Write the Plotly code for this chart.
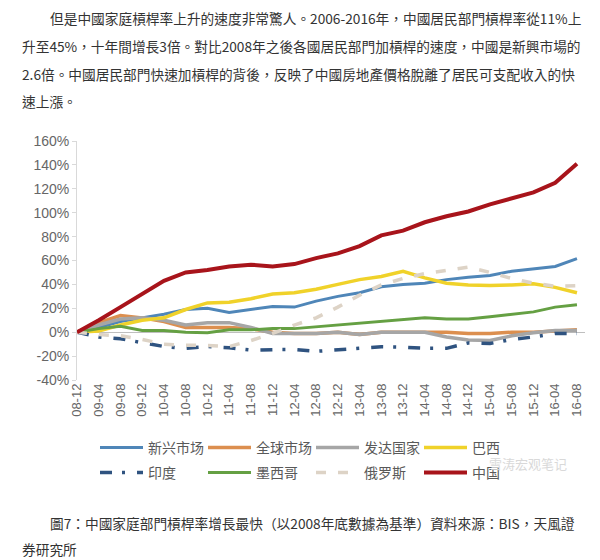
import plotly.graph_objects as go

# ---------------- data ----------------
categories = ["08-12", "09-04", "09-08", "09-12", "10-04", "10-08", "10-12", "11-04",
              "11-08", "11-12", "12-04", "12-08", "12-12", "13-04", "13-08", "13-12",
              "14-04", "14-08", "14-12", "15-04", "15-08", "15-12", "16-04", "16-08"]

emerging = [0, 4, 9, 12, 15, 19, 20, 16.5, 19, 21.5, 21, 26, 30, 33, 38, 40, 41, 44, 46, 47.5, 51, 53, 55, 61.5]
global_mkt = [0, 8, 14, 12, 9, 4, 4, 4, 3, 0, -1, -1, 0, -2, 0, 0, 0, 0, -1, -1, 0, 0, 1, 2]
developed = [0, 6, 11, 12, 10, 6, 8, 8, 4, -1, -1, -1, 0, -2, 0, 0, 0, -4, -6.5, -7, -3, -0.5, 1.5, 1.5]
brazil = [0, 1, 6, 10, 12, 19, 24.5, 25, 28, 32, 33, 36, 40, 44, 46.6, 51, 45.5, 41, 39.5, 39, 39.5, 40.5, 37.5, 33]
india = [0, -4, -5.5, -9, -12, -13.5, -12, -13, -15, -14.6, -14.5, -16, -14.5, -13, -12.2, -12.5, -13.5, -13.5, -9, -9.5, -6, -4, -1, -1]
mexico = [0, 3, 5, 1.5, 1.5, 0, -0.5, 2, 2, 3, 3, 4.5, 6, 7.5, 9, 11, 12, 11, 11, 13, 15, 17, 21, 23]
russia = [0, -2, -3, -6, -10, -11, -11, -12, -7, -1, 6, 12, 21, 31, 39.5, 45, 49, 52, 54.5, 50, 45, 41, 38.5, 39]
china = [0, 10, 21, 32, 43, 50, 52, 55, 56.5, 55, 57, 62, 66, 72, 81, 85, 92, 97, 101, 107, 112, 117, 125, 141]

y_ticks = [-40, -20, 0, 20, 40, 60, 80, 100, 120, 140, 160]
y_tick_labels = ["-40%", "-20%", "0%", "20%", "40%", "60%", "80%", "100%", "120%", "140%", "160%"]

series = [
    ("新兴市场", emerging, "#4f86b8", "solid", 3, "legend"),
    ("全球市场", global_mkt, "#dc8f4f", "solid", 3.5, "legend"),
    ("发达国家", developed, "#a6a6a6", "solid", 3.5, "legend"),
    ("巴西", brazil, "#f0d22a", "solid", 3.5, "legend"),
    ("印度", india, "#2f5380", "12px,10px,3px,12px", 3.5, "legend2"),
    ("墨西哥", mexico, "#65a043", "solid", 3, "legend2"),
    ("俄罗斯", russia, "#ddd3c6", "10px,12px", 3.5, "legend2"),
    ("中国", china, "#a8141b", "solid", 4, "legend2"),
]

paragraph = [
    ("但是中國家庭槓桿率上升的速度非常驚人。2006-2016年，中國居民部門槓桿率從11%上", 48, 18),
    ("升至45%，十年間增長3倍。對比2008年之後各國居民部門加槓桿的速度，中國是新興市場的", 20, 46),
    ("2.6倍。中國居民部門快速加槓桿的背後，反映了中國房地產價格脫離了居民可支配收入的快", 20, 74),
    ("速上漲。", 20, 101),
]
caption = [
    ("圖7：中國家庭部門槓桿率增長最快（以2008年底數據為基準）資料來源：BIS，天風證", 48, 523),
    ("券研究所", 20, 549),
]

# ---------------- layout geometry (page pixels; page body has an 8px margin) ----------------
OFF = 8
W, H = 600 - OFF, 560 - OFF
PLOT_L, PLOT_R, PLOT_T, PLOT_B = 77, 585, 141, 380   # page pixels
ML, MR = PLOT_L - OFF, 600 - PLOT_R
MT, MB = PLOT_T - OFF, 560 - PLOT_B
PW, PH = W - ML - MR, H - MT - MB


def px2paper(px, py):
    return (px - PLOT_L) / PW, (PLOT_B - py) / PH


fig = go.Figure()
for name, vals, color, dash, width, leg in series:
    fig.add_trace(go.Scatter(
        x=categories, y=vals, name=name, mode="lines",
        line=dict(color=color, width=width, dash=dash),
        legend=leg, hoverinfo="skip"))

annotations = []
for text, px, py in paragraph + caption:
    xp, yp = px2paper(px, py)
    annotations.append(dict(text=text, x=xp, y=yp, xref="paper", yref="paper",
                            xanchor="left", yanchor="middle", showarrow=False,
                            font=dict(family="Noto Sans CJK TC", size=13.7, color="#333333")))
# watermark
xp, yp = px2paper(487, 463)
annotations.append(dict(text="雪涛宏观笔记", x=xp, y=yp, xref="paper", yref="paper",
                        xanchor="left", yanchor="middle", showarrow=False,
                        font=dict(family="Noto Sans CJK SC", size=13, color="#d9d9d9")))

lx1, ly1 = px2paper(95, 448)
lx2, ly2 = px2paper(95, 473)
legend_font = dict(family="Noto Sans CJK SC", size=14, color="#595959")

fig.update_layout(
    width=W, height=H,
    margin=dict(l=ML, r=MR, t=MT, b=MB, autoexpand=False),
    paper_bgcolor="white", plot_bgcolor="white",
    showlegend=True,
    legend=dict(orientation="h", x=lx1, y=ly1, xanchor="left", yanchor="middle",
                entrywidth=50, entrywidthmode="pixels", itemwidth=43, font=legend_font,
                bgcolor="rgba(0,0,0,0)", traceorder="normal"),
    legend2=dict(orientation="h", x=lx2, y=ly2, xanchor="left", yanchor="middle",
                 entrywidth=50, entrywidthmode="pixels", itemwidth=43, font=legend_font,
                 bgcolor="rgba(0,0,0,0)", traceorder="normal"),
    annotations=annotations,
    xaxis=dict(type="category", range=[0, 23.37], showgrid=False, showline=False,
               zeroline=False, tickangle=-90, ticks="",
               tickfont=dict(family="Liberation Sans", size=13, color="#666666")),
    yaxis=dict(range=[-40, 160], tickvals=y_ticks, ticktext=y_tick_labels,
               showgrid=False, showline=True, linecolor="#d9d9d9", linewidth=1,
               ticks="outside", ticklen=4, tickcolor="#d9d9d9",
               zeroline=True, zerolinecolor="#bfbfbf", zerolinewidth=1,
               tickfont=dict(family="Liberation Sans", size=14, color="#666666")),
)

fig.write_html("out.html")
